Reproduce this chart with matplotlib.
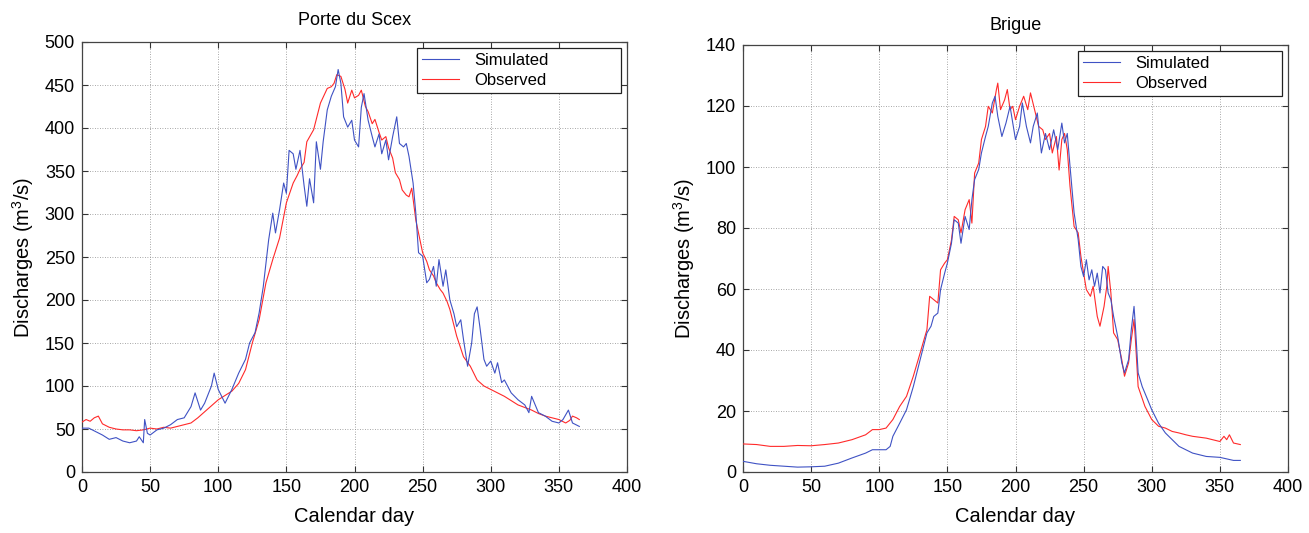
import matplotlib
matplotlib.use("Agg")
import matplotlib.pyplot as plt

plt.rcParams['font.family'] = ['Liberation Sans', 'DejaVu Sans']
plt.rcParams['mathtext.default'] = 'regular'

# ---------------- Data: Porte du Scex ----------------
scex_obs_days = [0, 3, 6, 9, 12, 15, 20, 25, 30, 35, 40, 45, 50, 55, 60, 65, 70, 75, 80, 85,
                 90, 95, 100, 105, 110, 115, 120, 125, 130, 135, 140, 145, 150, 155, 158, 160,
                 163, 165, 170, 175, 180, 183, 185, 187, 190, 193, 195, 198, 200, 203, 205, 208,
                 210, 213, 215, 218, 220, 223, 225, 228, 230, 233, 235, 238, 240, 242, 245, 250,
                 253, 255, 258, 260, 263, 265, 268, 270, 275, 280, 285, 290, 295, 300, 305, 310,
                 315, 320, 325, 330, 335, 340, 345, 350, 355, 358, 360, 363, 365]
scex_obs_vals = [58, 61, 59, 63, 65, 56, 52, 50, 49, 49, 48, 49, 51, 50, 52, 51, 53, 55, 57, 63,
                 70, 77, 84, 89, 94, 103, 119, 150, 177, 220, 247, 272, 313, 336, 345, 352,
                 360, 384, 398, 429, 446, 448, 452, 462, 460, 445, 429, 444, 435, 438, 444, 425,
                 419, 405, 410, 395, 386, 390, 377, 365, 348, 340, 328, 322, 320, 330, 293, 255,
                 245, 235, 228, 220, 212, 208, 198, 189, 158, 134, 123, 107, 100, 96, 92, 88,
                 83, 78, 75, 72, 68, 65, 63, 61, 57, 60, 65, 63, 61]

scex_sim_days = [0, 5, 10, 15, 20, 25, 30, 35, 40, 42, 45, 46, 48, 50, 55, 60, 65, 70, 75, 80,
                 83, 87, 90, 95, 97, 100, 105, 110, 115, 120, 123, 127, 130, 133, 137, 140, 142,
                 145, 148, 150, 152, 155, 157, 160, 163, 165, 167, 170, 172, 175, 177, 180, 183,
                 186, 188, 190, 192, 195, 198, 200, 203, 205, 207, 210, 213, 215, 218, 220, 223,
                 225, 228, 231, 233, 236, 238, 240, 243, 245, 247, 250, 253, 255, 258, 260, 262,
                 265, 267, 270, 273, 275, 278, 280, 283, 286, 288, 290, 292, 295, 297, 300, 303,
                 305, 308, 310, 315, 320, 325, 328, 330, 335, 340, 345, 350, 353, 357, 360, 365]
scex_sim_vals = [51, 51, 47, 43, 38, 40, 36, 34, 36, 41, 34, 61, 45, 43, 49, 51, 55, 61, 63, 76,
                 92, 72, 80, 100, 115, 96, 80, 96, 115, 131, 150, 162, 185, 215, 270, 301, 278,
                 305, 336, 324, 374, 370, 352, 374, 333, 309, 341, 313, 384, 352, 384, 421, 437,
                 448, 468, 452, 413, 401, 409, 386, 378, 424, 440, 409, 390, 378, 393, 370, 386,
                 363, 390, 413, 382, 378, 382, 367, 336, 301, 255, 251, 220, 224, 239, 216, 247,
                 216, 235, 200, 184, 169, 177, 154, 123, 150, 184, 192, 169, 131, 123, 129, 115,
                 127, 104, 107, 92, 84, 78, 69, 88, 69, 65, 59, 57, 61, 72, 57, 53]

# ---------------- Data: Brigue ----------------
brig_obs_days = [0, 10, 20, 30, 40, 50, 60, 70, 80, 90, 95, 100, 105, 110, 115, 120, 125, 130,
                 135, 137, 140, 143, 145, 148, 150, 153, 155, 158, 160, 163, 166, 168, 170, 173,
                 175, 178, 180, 183, 186, 187, 189, 192, 194, 196, 198, 200, 203, 206, 209, 211,
                 214, 217, 220, 222, 225, 227, 230, 232, 234, 236, 238, 240, 243, 246, 248, 250,
                 252, 255, 257, 260, 262, 265, 267, 268, 270, 272, 275, 278, 280, 283, 285, 287,
                 288, 290, 295, 300, 305, 310, 315, 320, 325, 330, 340, 350, 353, 355, 357, 360, 365]
brig_obs_vals = [9.2, 9.0, 8.4, 8.4, 8.7, 8.6, 9.0, 9.5, 10.6, 12.2, 13.9, 13.9, 14.4, 17.2, 21.5,
                 24.8, 31.4, 39.0, 46.7, 57.6, 56.5, 55.4, 66.3, 68.5, 69.6, 76.0, 83.8, 82.7, 78.4,
                 86.0, 89.3, 81.6, 98.0, 101.3, 109.0, 113.3, 119.9, 117.7, 125.4, 127.5, 118.8,
                 122.0, 125.4, 118.8, 119.9, 115.5, 119.9, 123.2, 118.8, 124.3, 118.8, 113.3, 112.2,
                 109.0, 111.0, 104.6, 110.0, 99.0, 109.0, 111.0, 105.7, 93.7, 80.5, 78.4, 70.7, 65.2,
                 59.8, 57.6, 60.9, 51.0, 47.8, 54.3, 60.9, 67.4, 58.7, 45.6, 43.4, 36.8, 31.4, 35.8,
                 43.4, 50.0, 43.4, 28.0, 21.5, 17.2, 15.0, 14.4, 13.3, 12.8, 12.2, 11.7, 11.1, 10.0,
                 11.7, 10.6, 12.2, 9.5, 9.0]

brig_sim_days = [0, 10, 20, 30, 40, 50, 60, 70, 80, 90, 95, 100, 105, 108, 110, 115, 120, 125,
                 130, 135, 138, 140, 143, 145, 148, 150, 153, 155, 158, 160, 163, 166, 168, 170,
                 173, 175, 178, 180, 183, 185, 187, 190, 193, 196, 198, 200, 203, 205, 208, 211,
                 213, 216, 219, 222, 225, 228, 231, 234, 236, 238, 240, 243, 246, 248, 250, 252,
                 254, 256, 258, 260, 262, 264, 266, 268, 270, 272, 275, 278, 280, 283, 285, 287,
                 288, 290, 293, 297, 300, 305, 310, 315, 320, 330, 340, 350, 360, 365]
brig_sim_vals = [3.5, 2.7, 2.2, 1.9, 1.6, 1.7, 1.9, 2.9, 4.6, 6.2, 7.3, 7.3, 7.3, 8.4, 11.7, 16.0,
                 20.4, 28.0, 36.8, 45.6, 47.8, 51.0, 52.1, 59.8, 65.2, 68.5, 75.0, 82.7, 81.6, 75.0,
                 83.8, 79.5, 89.3, 95.9, 99.2, 104.6, 110.0, 113.3, 121.0, 123.2, 116.6, 110.0, 114.4,
                 119.9, 114.4, 109.0, 113.3, 121.0, 113.3, 107.9, 113.3, 117.7, 104.6, 111.0, 105.7,
                 112.2, 105.7, 114.4, 107.9, 111.0, 100.3, 85.0, 76.2, 67.4, 64.1, 69.6, 63.0, 66.3,
                 60.9, 65.2, 58.7, 67.4, 66.3, 58.7, 56.5, 51.0, 44.4, 35.8, 32.5, 36.8, 46.7, 54.3,
                 47.8, 32.5, 28.0, 23.7, 20.4, 16.0, 12.8, 10.6, 8.4, 6.2, 5.1, 4.8, 3.8, 3.8]

xticks = [0, 50, 100, 150, 200, 250, 300, 350, 400]
scex_yticks = [0, 50, 100, 150, 200, 250, 300, 350, 400, 450, 500]
brig_yticks = [0, 20, 40, 60, 80, 100, 120, 140]

SIM_COLOR = '#3f52c4'
OBS_COLOR = '#ff2a2a'

fig = plt.figure(figsize=(13.09, 5.33), dpi=100)
fig.patch.set_facecolor('white')

ax1 = fig.add_axes([82 / 1309, 61 / 533, 545 / 1309, 430 / 533])
ax2 = fig.add_axes([743 / 1309, 61 / 533, 545 / 1309, 427 / 533])

panels = [
    (ax1, 'Porte du Scex', 12, scex_sim_days, scex_sim_vals, scex_obs_days, scex_obs_vals,
     scex_yticks, 500),
    (ax2, 'Brigue', 11, brig_sim_days, brig_sim_vals, brig_obs_days, brig_obs_vals,
     brig_yticks, 140),
]

for ax, title, tpad, sd, sv, od, ov, yt, ymax in panels:
    ax.plot(od, ov, color=OBS_COLOR, lw=0.8, label='Observed', zorder=3)
    ax.plot(sd, sv, color=SIM_COLOR, lw=0.8, label='Simulated', zorder=4)
    ax.set_xlim(0, 400)
    ax.set_ylim(0, ymax)
    ax.set_xticks(xticks)
    ax.set_yticks(yt)
    ax.tick_params(direction='in', top=True, right=True, labelsize=13, length=4,
                   color='#333333', pad=5)
    ax.grid(True, linestyle=(0, (1, 2)), color='#8a8a8a', linewidth=0.6)
    for sp in ax.spines.values():
        sp.set_color('#444444')
        sp.set_linewidth(0.9)
    ax.set_title(title, fontsize=13, pad=tpad)
    ax.set_xlabel('Calendar day', fontsize=14.5, labelpad=8)
    ax.set_ylabel('Discharges (m$^3$/s)', fontsize=14.5, labelpad=6)
    handles, labels = ax.get_legend_handles_labels()
    leg = ax.legend(handles[::-1], labels[::-1], loc='upper left',
                    bbox_to_anchor=(0.615, 0.986, 0.374, 0.0), mode='expand',
                    fontsize=12, frameon=True, fancybox=False, framealpha=1,
                    edgecolor='#222222', handlelength=2.2, borderpad=0.3,
                    labelspacing=0.3, handletextpad=0.9, borderaxespad=0)
    leg.get_frame().set_linewidth(0.9)

fig.savefig('out.png', dpi=100, facecolor='white')
